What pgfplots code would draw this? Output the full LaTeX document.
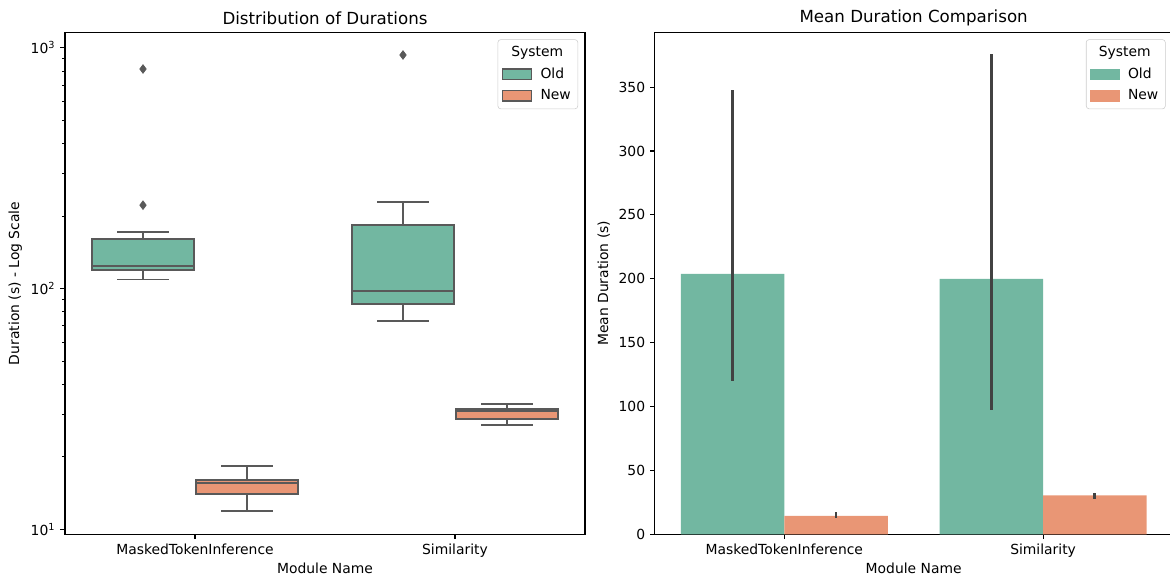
\documentclass[border=0pt]{standalone}
\usepackage{fontspec}
\setmainfont{DejaVu Sans}
\usepackage{pgfplots}
\pgfplotsset{compat=1.18}
\definecolor{oldc}{RGB}{114,183,161}
\definecolor{newc}{RGB}{233,150,117}
\definecolor{edgec}{RGB}{89,89,89}
\definecolor{errc}{RGB}{66,66,66}
\begin{document}
\begin{tikzpicture}
\useasboundingbox (0,0) rectangle (842.4pt,415.44pt);
\pgfplotsset{
 common/.style={
   scale only axis, height=361.4pt, anchor=south west,
   xmin=-0.5, xmax=1.5, xtick={0,1}, xticklabels={MaskedTokenInference,Similarity},
   tick align=outside, tick pos=left, major tick length=3.5pt, minor tick length=2pt,
   tick style={black, line width=0.8pt}, minor tick style={line width=0.6pt},
   axis line style={line width=0.8pt},
   every tick label/.append style={font=\fontsize{10}{12}\selectfont},
   label style={font=\fontsize{10}{12}\selectfont},
   every axis title/.style={font=\fontsize{12}{14}\selectfont, at={(axis description cs:0.5,1.0285)}, anchor=center},
   xlabel={Module Name},
   every axis x label/.style={at={(axis description cs:0.5,-0.0685)}, anchor=center},
   /pgf/number format/assume math mode=true,
   legend style={at={(axis description cs:1,1)}, anchor=north east, xshift=-5pt, yshift=-5pt, draw=black!20, rounded corners=2pt, fill=white, fill opacity=0.8, text opacity=1, font=\fontsize{10}{12}\selectfont, row sep=2.5pt, inner ysep=3pt},
   legend cell align=left,
 },
 wl/.style={draw=edgec, line width=1.3pt, forget plot},
 bx/.style={draw=edgec, line width=1.3pt, fill=#1, forget plot},
}
\begin{axis}[common, at={(46.8pt,30.7pt)}, width=374.4pt,
  ymode=log, ymin=9.53, ymax=1158, ytick={10,100,1000},
  yticklabels={10\textsuperscript{1},10\textsuperscript{2},10\textsuperscript{3}},
  ylabel={Duration (s) - Log Scale},
  every axis y label/.style={at={(axis description cs:-0.0956,0.5)}, rotate=90, anchor=center},
  title={Distribution of Durations}]
% MaskedTokenInference - Old
\addplot[wl] coordinates {(-0.2,160) (-0.2,172)};
\addplot[wl] coordinates {(-0.3,172) (-0.1,172)};
\addplot[wl] coordinates {(-0.2,119) (-0.2,109)};
\addplot[wl] coordinates {(-0.3,109) (-0.1,109)};
\addplot[bx=oldc] coordinates {(-0.395,119) (-0.005,119) (-0.005,160) (-0.395,160)} -- cycle;
\addplot[wl] coordinates {(-0.395,124.4) (-0.005,124.4)};
% Similarity - Old
\addplot[wl] coordinates {(0.8,184) (0.8,229)};
\addplot[wl] coordinates {(0.7,229) (0.9,229)};
\addplot[wl] coordinates {(0.8,86) (0.8,73.3)};
\addplot[wl] coordinates {(0.7,73.3) (0.9,73.3)};
\addplot[bx=oldc] coordinates {(0.605,86) (0.995,86) (0.995,184) (0.605,184)} -- cycle;
\addplot[wl] coordinates {(0.605,97.7) (0.995,97.7)};
% MaskedTokenInference - New
\addplot[wl] coordinates {(0.2,16.0) (0.2,18.3)};
\addplot[wl] coordinates {(0.1,18.3) (0.3,18.3)};
\addplot[wl] coordinates {(0.2,14.0) (0.2,11.9)};
\addplot[wl] coordinates {(0.1,11.9) (0.3,11.9)};
\addplot[bx=newc] coordinates {(0.005,14.0) (0.395,14.0) (0.395,16.0) (0.005,16.0)} -- cycle;
\addplot[wl] coordinates {(0.005,15.6) (0.395,15.6)};
% Similarity - New
\addplot[wl] coordinates {(1.2,31.5) (1.2,33.2)};
\addplot[wl] coordinates {(1.1,33.2) (1.3,33.2)};
\addplot[wl] coordinates {(1.2,28.7) (1.2,27.2)};
\addplot[wl] coordinates {(1.1,27.2) (1.3,27.2)};
\addplot[bx=newc] coordinates {(1.005,28.7) (1.395,28.7) (1.395,31.5) (1.005,31.5)} -- cycle;
\addplot[wl] coordinates {(1.005,31.0) (1.395,31.0)};
% outliers
\addplot[only marks, mark=diamond*, mark size=3.1pt, mark options={fill=edgec, draw=edgec, line width=0.5pt}, forget plot] coordinates {(-0.2,816) (-0.2,222) (0.8,933)};
\addlegendimage{empty legend}\addlegendentry{\hspace{-17pt}System}
\addlegendimage{legend image code/.code={\draw[sharp corners,fill=oldc,draw=edgec,line width=1pt,fill opacity=1,draw opacity=1] (0pt,-3.85pt) rectangle (20.7pt,3.85pt);}}\addlegendentry{\hspace{4pt}Old}
\addlegendimage{legend image code/.code={\draw[sharp corners,fill=newc,draw=edgec,line width=1pt,fill opacity=1,draw opacity=1] (0pt,-3.85pt) rectangle (20.7pt,3.85pt);}}\addlegendentry{\hspace{4pt}New}
\end{axis}
\begin{axis}[common, at={(471.5pt,30.7pt)}, width=372.7pt,
  ymin=0, ymax=392.8, ytick={0,50,...,350},
  ylabel={Mean Duration (s)},
  every axis y label/.style={at={(axis description cs:-0.0987,0.5)}, rotate=90, anchor=center},
  title={Mean Duration Comparison},
  ybar, bar width=0.4, bar shift=0pt]
\addplot[fill=oldc, draw=none, forget plot, error bars/.cd, y dir=both, y explicit, error bar style={draw=errc, line width=2pt}, error mark=none]
 coordinates {(-0.2,203.9) += (0,143.8) -= (0,83.9) (0.8,200.0) += (0,175.8) -= (0,102.7)};
\addplot[fill=newc, draw=none, forget plot, error bars/.cd, y dir=both, y explicit, error bar style={draw=errc, line width=2pt}, error mark=none]
 coordinates {(0.2,14.55) += (0,2.85) -= (0,1.75) (1.2,30.5) += (0,2.1) -= (0,2.9)};
\addlegendimage{empty legend}\addlegendentry{\hspace{-17pt}System}
\addlegendimage{legend image code/.code={\fill[sharp corners,oldc,fill opacity=1] (0pt,-3.85pt) rectangle (20.7pt,3.85pt);}}\addlegendentry{\hspace{4pt}Old}
\addlegendimage{legend image code/.code={\fill[sharp corners,newc,fill opacity=1] (0pt,-3.85pt) rectangle (20.7pt,3.85pt);}}\addlegendentry{\hspace{4pt}New}
\end{axis}
\end{tikzpicture}
\end{document}
